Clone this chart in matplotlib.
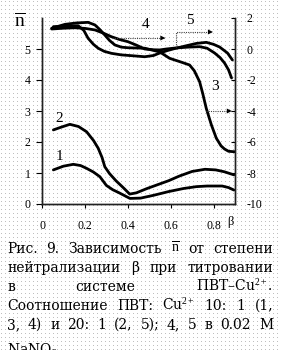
"""Figure 9: n-bar (left) and curves 3-5 (right axis) vs degree of neutralization"""
import matplotlib
matplotlib.use('Agg')
import matplotlib.pyplot as plt
import numpy as np

plt.rcParams['font.family'] = ['Liberation Serif', 'DejaVu Serif']
plt.rcParams['mathtext.fontset'] = 'custom'
plt.rcParams['mathtext.rm'] = 'Liberation Serif'
plt.rcParams['mathtext.it'] = 'Liberation Serif:italic'
plt.rcParams['axes.unicode_minus'] = False

# Curves 1, 2 (left axis, n-bar)
beta_1 = [0.053, 0.10, 0.146, 0.18, 0.208, 0.24, 0.27, 0.30, 0.33, 0.36, 0.41, 0.46,
          0.52, 0.59, 0.66, 0.72, 0.77, 0.84, 0.87, 0.895]
n_1 = [1.10, 1.22, 1.28, 1.24, 1.15, 1.03, 0.88, 0.60, 0.46, 0.36, 0.18, 0.19,
       0.28, 0.40, 0.50, 0.56, 0.58, 0.58, 0.53, 0.45]

beta_2 = [0.053, 0.09, 0.13, 0.17, 0.208, 0.24, 0.262, 0.28, 0.293, 0.315, 0.345, 0.38,
          0.409, 0.44, 0.49, 0.53, 0.59, 0.64, 0.70, 0.76, 0.81, 0.85, 0.895]
n_2 = [2.39, 2.48, 2.57, 2.50, 2.33, 2.05, 1.80, 1.50, 1.20, 0.98, 0.75, 0.52,
       0.32, 0.36, 0.50, 0.60, 0.75, 0.90, 1.05, 1.12, 1.10, 1.04, 0.94]

# Curves 3, 4, 5 (right axis)
beta_3 = [0.045, 0.107, 0.16, 0.215, 0.247, 0.27, 0.293, 0.315, 0.34, 0.37, 0.401, 0.479,
          0.549, 0.595, 0.65, 0.688, 0.71, 0.735, 0.75, 0.766, 0.79, 0.813, 0.835, 0.851,
          0.87, 0.898]
y_3 = [1.34, 1.59, 1.68, 1.72, 1.55, 1.25, 0.90, 0.55, 0.26, 0.12, 0.08, 0.05,
       -0.19, -0.60, -0.85, -1.03, -1.40, -2.11, -2.90, -3.83, -4.90, -5.76, -6.25, -6.45,
       -6.60, -6.63]

beta_4 = [0.045, 0.10, 0.153, 0.20, 0.247, 0.29, 0.324, 0.36, 0.401, 0.44, 0.479, 0.52,
          0.549, 0.58, 0.619, 0.68, 0.735, 0.77, 0.805, 0.83, 0.851, 0.87, 0.884]
y_4 = [1.29, 1.34, 1.37, 1.33, 1.23, 1.00, 0.79, 0.62, 0.47, 0.25, 0.00, -0.05,
       -0.06, 0.00, 0.06, 0.12, 0.15, 0.05, -0.26, -0.55, -0.90, -1.35, -1.87]

beta_5 = [0.053, 0.11, 0.169, 0.195, 0.215, 0.24, 0.262, 0.29, 0.324, 0.37, 0.417, 0.479,
          0.52, 0.549, 0.585, 0.619, 0.67, 0.72, 0.766, 0.80, 0.828, 0.85, 0.865, 0.888]
y_5 = [1.44, 1.48, 1.50, 1.20, 0.69, 0.30, 0.05, -0.15, -0.28, -0.38, -0.43, -0.50,
       -0.42, -0.26, -0.10, 0.03, 0.20, 0.36, 0.43, 0.30, 0.13, -0.10, -0.26, -0.71]

x_ticks = [0, 0.2, 0.4, 0.6, 0.8]
x_labels = ['0', '0.2', '0.4', '0.6', '0.8']
left_ticks = [0, 1, 2, 3, 4, 5]
right_ticks = [2, 0, -2, -4, -6, -8, -10]
right_labels = ['2', '0', '-2', '-4', '-6', '-8', '-10']

caption = [
    ['Рис.', '9.', 'Зависимость', r'$\overline{\mathrm{n}}$', 'от', 'степени'],
    ['нейтрализации', 'β', 'при', 'титровании'],
    ['в', 'системе', 'ПВТ–Cu$^{2+}$.'],
    ['Соотношение', 'ПВТ:', 'Cu$^{2+}$', '10:', '1', '(1,'],
    ['3,', '4)', 'и', '20:', '1', '(2,', '5);', '4,', '5', 'в', '0.02', 'М'],
    ['NaNO$_3$'],
]

W, H = 281, 350
fig = plt.figure(figsize=(W / 100, H / 100), dpi=100)

# dotted screen background
bg = np.ones((H, W, 4))
bg[1::4, 1::4, :3] = 0.75
fig.figimage(bg, 0, 0, zorder=-1)

ax = fig.add_axes([42 / W, 1 - 204 / H, 193 / W, 186 / H])
ax.set_facecolor('none')
ax2 = ax.twinx()

line = {'c': 'k', 'lw': 2.0, 'solid_joinstyle': 'round', 'solid_capstyle': 'round'}
ax.plot(beta_1, n_1, **line)
ax.plot(beta_2, n_2, **line)
ax2.plot(beta_3, y_3, **line)
ax2.plot(beta_4, y_4, **line)
ax2.plot(beta_5, y_5, **line)

ax.set_xlim(0, 0.9)
ax.set_ylim(0, 6)
ax2.set_ylim(-10, 2)

ax.set_xticks(x_ticks)
ax.set_xticklabels(x_labels)
ax.set_yticks(left_ticks)
ax2.set_yticks(right_ticks)
ax2.set_yticklabels(right_labels)

for a in (ax, ax2):
    a.spines['top'].set_visible(False)
    for s in a.spines.values():
        s.set_linewidth(1.0)
        s.set_color('#222222')
ax.tick_params(axis='x', direction='out', length=3, width=0.8, pad=8.5, labelsize=8.5)
ax.tick_params(axis='y', direction='out', length=4, width=0.8, pad=4.3, labelsize=8.5)
ax2.tick_params(axis='y', direction='in', length=3, width=0.8, pad=8, labelsize=8.5)

# curve numbers
lab = {'fontsize': 11, 'ha': 'center', 'va': 'center'}
fig.text(59.5 / W, 1 - 118 / H, '2', **lab)
fig.text(59.5 / W, 1 - 156.5 / H, '1', **lab)
fig.text(215 / W, 1 - 87 / H, '3', **lab)
fig.text(146 / W, 1 - 24 / H, '4', **lab)
fig.text(190 / W, 1 - 20 / H, '5', **lab)
fig.text(20 / W, 1 - 21 / H, r'$\overline{\mathrm{n}}$', fontsize=14, ha='center', va='center')
fig.text(230 / W, 1 - 225.5 / H, 'β', fontsize=9, ha='center', va='baseline')

# arrows pointing to the right axis
arr = {'c': '#444444', 'lw': 0.8, 'ls': (0, (1, 1))}
head = dict(arrowstyle='-|>', color='k', lw=0, mutation_scale=9)
ax2.plot([0.326, 0.57], [0.71, 0.71], **arr)
ax2.annotate('', xy=(0.588, 0.71), xytext=(0.55, 0.71), arrowprops=head)
ax2.plot([0.623, 0.623, 0.79], [0.13, 1.10, 1.10], **arr)
ax2.annotate('', xy=(0.81, 1.10), xytext=(0.77, 1.10), arrowprops=head)
ax2.plot([0.763, 0.88], [-4.0, -4.0], **arr)
ax2.annotate('', xy=(0.898, -4.0), xytext=(0.86, -4.0), arrowprops=head)

# justified caption
fig.canvas.draw()
r = fig.canvas.get_renderer()
baselines = [253, 272, 291, 310, 329, 355]
x0, x1 = 7, 273
for i, (words, yb) in enumerate(zip(caption, baselines)):
    texts = [fig.text(0, 1 - yb / H, w, fontsize=10, va='baseline',
                      family=['DejaVu Serif']) for w in words]
    widths = [t.get_window_extent(r).width for t in texts]
    if len(words) > 1 and i < len(caption) - 1:
        gap = (x1 - x0 - sum(widths)) / (len(words) - 1)
    else:
        gap = 4
    x = x0
    for t, w in zip(texts, widths):
        t.set_x(x / W)
        x += w + gap

fig.savefig('out.png', dpi=100)
